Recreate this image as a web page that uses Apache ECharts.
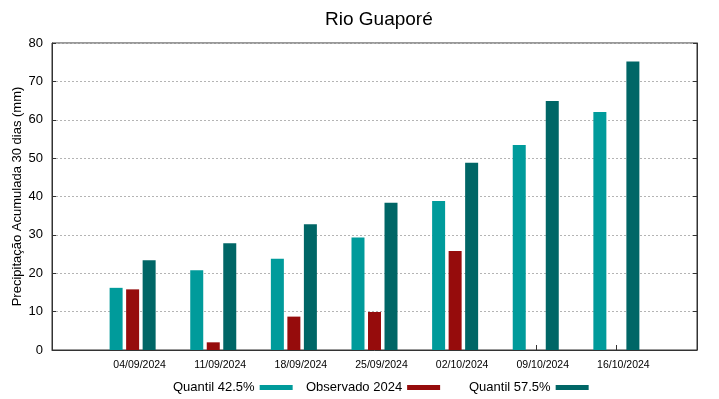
<!DOCTYPE html>
<html>
<head>
<meta charset="utf-8">
<script src="https://cdn.jsdelivr.net/npm/echarts@6/dist/echarts.min.js"></script>
<style>
  html, body { margin: 0; padding: 0; background: #fff; }
  #chart { width: 719px; height: 399px; }
</style>
</head>
<body>
<div id="chart"></div>
<script>
// Rio Guaporé - 30 day accumulated precipitation
// empty first/last categories pad the axis the way gnuplot does (xrange -1..7)
var categories = ['', '04/09/2024', '11/09/2024', '18/09/2024', '25/09/2024', '02/10/2024', '09/10/2024', '16/10/2024', ''];
var q425 = [null, 16.2, 20.8, 23.8, 29.3, 38.8, 53.4, 62.0, null];
var obs2024 = [null, 15.8, 2.0, 8.7, 9.9, 25.8, null, null, null];
var q575 = [null, 23.4, 27.8, 32.8, 38.4, 48.8, 64.9, 75.2, null];
var yTicks = [0, 10, 20, 30, 40, 50, 60, 70, 80];

(function() {
  var font = 'Liberation Sans, Arial, sans-serif';
  var cTeal = '#009b9b';
  var cRed = '#960c0c';
  var cDark = '#006666';
  var grid = '#b4b4b4';
  var border = '#333';

  var chart = echarts.init(document.getElementById('chart'), null, { renderer: 'canvas' });

  function legendAt(name, left) {
    return {
      data: [name],
      left: left,
      top: 381,
      padding: 0,
      align: 'right',
      icon: 'rect',
      itemWidth: 33,
      itemHeight: 5,
      itemGap: 0,
      selectedMode: false,
      textStyle: { color: '#000', fontSize: 13, fontFamily: font }
    };
  }

  chart.setOption({
    animation: false,
    backgroundColor: '#fff',
    title: {
      text: 'Rio Guaporé',
      left: 320,
      top: 5,
      textStyle: { color: '#000', fontSize: 19, fontWeight: 'normal', fontFamily: font }
    },
    legend: [
      legendAt('Quantil 42.5%', 173),
      legendAt('Observado 2024', 306),
      legendAt('Quantil 57.5%', 469)
    ],
    grid: {
      left: 52, right: 22, top: 43, bottom: 49,
      outerBoundsMode: 'none',
      show: true, borderColor: border, borderWidth: 1, backgroundColor: 'transparent'
    },
    xAxis: {
      type: 'category',
      data: categories,
      boundaryGap: false,
      axisLine: { lineStyle: { color: border, width: 1 } },
      axisTick: { show: true, inside: true, length: 5, lineStyle: { color: border } },
      axisLabel: {
        color: '#000', fontSize: 10.5, fontFamily: font, margin: 10,
        interval: 0, padding: [0, 0, 0, 14]
      },
      splitLine: { show: false }
    },
    yAxis: [
      {
        type: 'value',
        min: 0, max: 80, interval: 10,
        name: 'Precipitação Acumulada 30 dias (mm)',
        nameLocation: 'middle',
        nameGap: 28,
        nameMoveOverlap: false,
        nameTextStyle: { color: '#000', fontSize: 13, fontFamily: font },
        axisLine: { show: true, lineStyle: { color: border } },
        axisTick: { show: true, inside: true, length: 4, lineStyle: { color: border } },
        axisLabel: {
          color: '#000', fontSize: 13, fontFamily: font, margin: 9,
          formatter: function(v) { return yTicks.indexOf(v) >= 0 ? String(v) : ''; }
        },
        splitLine: { show: true, lineStyle: { color: grid, type: [2, 2], width: 1 } }
      },
      {
        type: 'value',
        position: 'right',
        min: 0, max: 80, interval: 10,
        axisLine: { show: true, lineStyle: { color: border } },
        axisTick: { show: true, inside: true, length: 4, lineStyle: { color: border } },
        axisLabel: { show: false },
        splitLine: { show: false }
      }
    ],
    series: [
      {
        name: 'Quantil 42.5%',
        type: 'bar',
        data: q425,
        barWidth: 13,
        barGap: '27%',
        itemStyle: { color: cTeal }
      },
      {
        name: 'Observado 2024',
        type: 'bar',
        data: obs2024,
        barWidth: 13,
        barGap: '27%',
        itemStyle: { color: cRed }
      },
      {
        name: 'Quantil 57.5%',
        type: 'bar',
        data: q575,
        barWidth: 13,
        barGap: '27%',
        itemStyle: { color: cDark }
      }
    ]
  });
})();
</script>
</body>
</html>
